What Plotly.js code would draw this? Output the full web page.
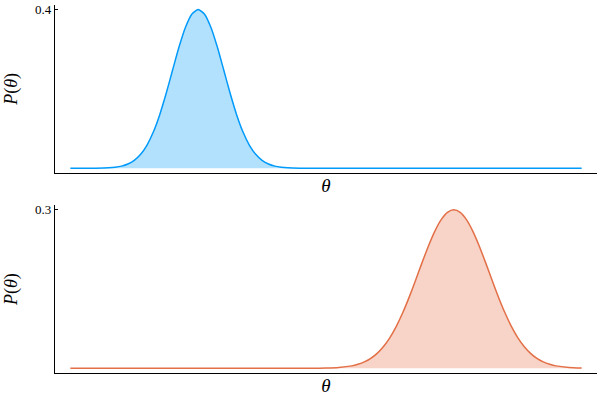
<!DOCTYPE html>
<html>
<head>
<meta charset="utf-8">
<script src="https://cdn.plot.ly/plotly-3.0.1.min.js"></script>
<style>html,body{margin:0;padding:0;background:#fff;}#plot{width:600px;height:400px;}</style>
</head>
<body>
<div id="plot"></div>
<script>
// Top panel: theta positions and density values
const thetaTop = [-5, -4, -3.5, -3.25, -3, -2.75, -2.5, -2.25, -2, -1.75, -1.5, -1.25, -1, -0.75, -0.5, -0.25, 0, 0.25, 0.5, 0.75, 1, 1.25, 1.5, 1.75, 2, 2.25, 2.5, 2.75, 3, 3.25, 3.5, 4, 5, 10, 15];
const densTop = [0, 0.0002, 0.0011, 0.0025, 0.0053, 0.0106, 0.0198, 0.0351, 0.0585, 0.0918, 0.1357, 0.1888, 0.2474, 0.3053, 0.3547, 0.3882, 0.4000, 0.3882, 0.3547, 0.3053, 0.2474, 0.1888, 0.1357, 0.0918, 0.0585, 0.0351, 0.0198, 0.0106, 0.0053, 0.0025, 0.0011, 0.0002, 0, 0, 0];

// Bottom panel
const thetaBot = [-5, 0, 4, 4.5, 5, 5.5, 6, 6.25, 6.5, 6.75, 7, 7.25, 7.5, 7.75, 8, 8.25, 8.5, 8.75, 9, 9.25, 9.5, 9.75, 10, 10.25, 10.5, 10.75, 11, 11.25, 11.5, 11.75, 12, 12.25, 12.5, 12.75, 13, 13.25, 13.5, 13.75, 14, 14.5, 15];
const densBot = [0, 0, 0, 0.0001, 0.0004, 0.0015, 0.0045, 0.0075, 0.0120, 0.0187, 0.0282, 0.0412, 0.0581, 0.0794, 0.1050, 0.1342, 0.1662, 0.1991, 0.2307, 0.2588, 0.2809, 0.2951, 0.3000, 0.2951, 0.2809, 0.2588, 0.2307, 0.1991, 0.1662, 0.1342, 0.1050, 0.0794, 0.0581, 0.0412, 0.0282, 0.0187, 0.0120, 0.0075, 0.0045, 0.0015, 0.0004];

const topTicks = [0.4];
const botTicks = [0.3];
const xLabel = 'θ';
const yLabel = '<i>P</i>(<i>θ</i>)';

const blue = 'rgb(0,154,250)';
const orange = 'rgb(227,111,71)';

const traces = [
  {x: thetaTop, y: densTop, type: 'scatter', mode: 'lines', fill: 'tozeroy',
   line: {color: blue, width: 1.5, shape: 'spline', smoothing: 0.6}, fillcolor: 'rgba(0,154,250,0.3)',
   xaxis: 'x', yaxis: 'y', hoverinfo: 'skip'},
  {x: thetaBot, y: densBot, type: 'scatter', mode: 'lines', fill: 'tozeroy',
   line: {color: orange, width: 1.5, shape: 'spline', smoothing: 0.6}, fillcolor: 'rgba(227,111,71,0.3)',
   xaxis: 'x2', yaxis: 'y2', hoverinfo: 'skip'}
];

const font = {family: 'Liberation Serif, DejaVu Serif, serif', color: '#000'};

function xax(anchor) {
  return {
    anchor: anchor, domain: [0, 1], range: [-5.6, 15.6],
    showgrid: false, zeroline: false, showticklabels: false, ticks: '',
    showline: true, linecolor: '#000', linewidth: 1.2,
    title: {text: '<i>' + xLabel + '</i>', font: {family: font.family, size: 19, color: '#000'}, standoff: 5}
  };
}
function yax(anchor, dom, rng, tv) {
  return {
    anchor: anchor, domain: dom, range: rng,
    showgrid: false, zeroline: false,
    tickmode: 'array', tickvals: tv, ticktext: tv.map(String),
    ticks: 'inside', ticklen: 3, tickwidth: 1, tickcolor: '#000',
    tickfont: {family: font.family, size: 13, color: '#000'},
    showline: true, linecolor: '#000', linewidth: 1.2,
    title: {text: yLabel, font: {family: font.family, size: 18, color: '#000'}, standoff: 12}
  };
}

const layout = {
  width: 600, height: 400,
  margin: {l: 55, r: 3, t: 4, b: 27},
  paper_bgcolor: '#fff', plot_bgcolor: '#fff',
  showlegend: false,
  font: font,
  xaxis: xax('y'),
  yaxis: yax('x', [0.542, 0.998], [-0.012, 0.412], topTicks),
  xaxis2: xax('y2'),
  yaxis2: yax('x2', [0, 0.455], [-0.009, 0.309], botTicks)
};

Plotly.newPlot('plot', traces, layout, {displayModeBar: false, staticPlot: true});
</script>
</body>
</html>
